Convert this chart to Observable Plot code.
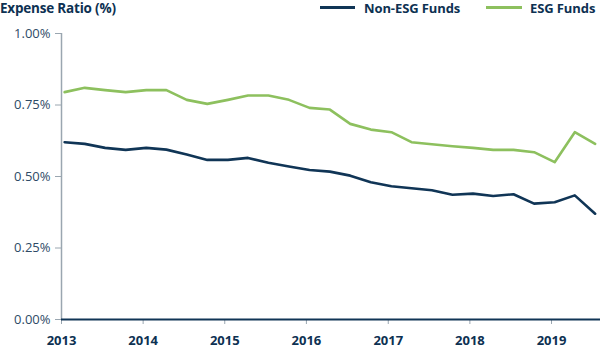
<!DOCTYPE html>
<html>
<head>
<meta charset="utf-8">
<script src="https://cdn.jsdelivr.net/npm/d3@7"></script>
<script src="https://cdn.jsdelivr.net/npm/@observablehq/plot@0.6"></script>
<style>
  html, body { margin: 0; padding: 0; background: #fff; }
  #wrap { position: relative; width: 600px; height: 348px; font-family: "Open Sans", Lato, sans-serif; }
  #title { position: absolute; left: 0; top: 0; font-size: 13.5px; font-weight: 700; color: #0d3152; line-height: 17px; letter-spacing: -0.2px; }
  .sw { position: absolute; top: 6px; height: 3px; }
  .lg { position: absolute; top: 0; font-size: 13px; font-weight: 700; color: #0d3152; line-height: 16px; letter-spacing: -0.1px; }
  #chart { position: absolute; left: 0; top: 0; }
</style>
</head>
<body>
<div id="wrap">
  <div id="chart"></div>
  <div id="title">Expense Ratio (%)</div>
  <div id="legend"></div>
</div>
<script>
const series = ["Non-ESG Funds", "ESG Funds"];
const colors = ["#103556", "#8dc05e"];
const dates = [
  "2013-01-15","2013-04-15","2013-07-15","2013-10-15",
  "2014-01-15","2014-04-15","2014-07-15","2014-10-15",
  "2015-01-15","2015-04-15","2015-07-15","2015-10-15",
  "2016-01-15","2016-04-15","2016-07-15","2016-10-15",
  "2017-01-15","2017-04-15","2017-07-15","2017-10-15",
  "2018-01-15","2018-04-15","2018-07-15","2018-10-15",
  "2019-01-15","2019-04-15","2019-07-15"
];
const nonEsg = [0.620,0.614,0.600,0.593,0.600,0.594,0.577,0.558,0.558,0.565,0.548,0.535,0.523,0.517,0.503,0.480,0.466,0.459,0.452,0.436,0.440,0.432,0.438,0.405,0.410,0.434,0.370];
const esg    = [0.795,0.810,0.802,0.795,0.802,0.802,0.768,0.754,0.768,0.783,0.783,0.768,0.740,0.734,0.684,0.664,0.655,0.620,0.613,0.606,0.600,0.593,0.593,0.585,0.550,0.655,0.614];
const yTicks = [0, 0.25, 0.5, 0.75, 1];
const xTickYears = ["2013","2014","2015","2016","2017","2018","2019"];

const rows = [];
dates.forEach((d, i) => {
  rows.push({date: new Date(d), value: nonEsg[i], series: series[0]});
  rows.push({date: new Date(d), value: esg[i], series: series[1]});
});
const xStart = new Date("2013-01-01");
const xEnd = new Date("2019-08-08");

const chart = Plot.plot({
  width: 600,
  height: 348,
  marginLeft: 61,
  marginRight: 0,
  marginTop: 33,
  marginBottom: 29,
  style: {fontFamily: "'Open Sans', Lato, sans-serif", background: "transparent"},
  x: {type: "utc", domain: [xStart, xEnd]},
  y: {domain: [0, 1]},
  color: {domain: series, range: colors},
  marks: [
    Plot.axisY({ticks: yTicks, tickFormat: d => d.toFixed(2) + "%", tickSize: 6, tickPadding: 5, stroke: "#9aa6b0", color: "#2e4a66", fontSize: 13, label: null}),
    Plot.axisX({ticks: xTickYears.map(y => new Date(y + "-01-01")), tickFormat: d3.utcFormat("%Y"), tickSize: 5, tickPadding: 11, stroke: "#9aa6b0", color: "#0d3152", fontSize: 13, fontWeight: 700, label: null}),
    Plot.ruleX([xStart], {stroke: "#9aa6b0", strokeWidth: 1.5}),
    Plot.line(rows, {x: "date", y: "value", z: "series", stroke: "series", strokeWidth: 2.6, curve: "linear"}),
    Plot.ruleY([0], {stroke: "#103556", strokeWidth: 2})
  ]
});
document.getElementById("chart").appendChild(chart);

const legend = document.getElementById("legend");
const lgPos = [{sw: 320, swW: 35, tx: 364}, {sw: 486, swW: 36, tx: 530}];
series.forEach((s, i) => {
  const sw = document.createElement("div");
  sw.className = "sw";
  sw.style.left = lgPos[i].sw + "px";
  sw.style.width = lgPos[i].swW + "px";
  sw.style.background = colors[i];
  legend.appendChild(sw);
  const t = document.createElement("div");
  t.className = "lg";
  t.style.left = lgPos[i].tx + "px";
  t.textContent = s;
  legend.appendChild(t);
});
</script>
</body>
</html>
